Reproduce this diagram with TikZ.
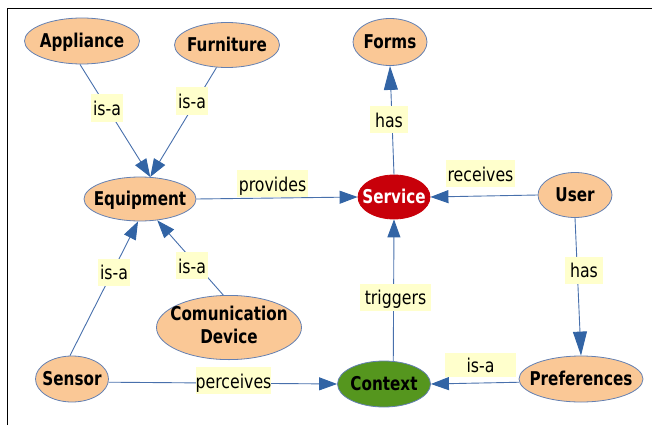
\documentclass[tikz,border=0pt]{standalone}
\usepackage{fontspec}
\setmainfont{DejaVu Sans}
\newfontfamily\conceptfont[FakeStretch=0.8]{DejaVu Sans}
\newfontfamily\linkfont[FakeStretch=0.83]{DejaVu Sans}
\usetikzlibrary{shapes.geometric,arrows.meta}

\definecolor{conceptfill}{RGB}{250,200,150}
\definecolor{conceptborder}{RGB}{100,128,178}
\definecolor{servicered}{RGB}{200,0,10}
\definecolor{contextgreen}{RGB}{85,150,30}
\definecolor{linkyellow}{RGB}{255,255,204}
\definecolor{edgeblue}{RGB}{72,112,172}
\definecolor{tipblue}{RGB}{50,100,165}

% concept names keep a fixed box so the ellipse size is set by the style alone
\newcommand\cname[1]{\makebox[0pt]{\raisebox{0pt}[15pt][2pt]{#1}}}

\tikzset{
  concept/.style={ellipse, draw=conceptborder, line width=0.8pt, fill=conceptfill,
    inner sep=0pt, font=\conceptfont\bfseries\fontsize{19}{22.7}\selectfont},
  linkname/.style={fill=linkyellow, inner xsep=2pt, inner ysep=0pt,
    minimum height=27pt, text height=15.5pt, text depth=0.5pt,
    font=\linkfont\fontsize{19}{22}\selectfont},
  relation/.style={draw=edgeblue, line width=0.9pt,
    -{Triangle[length=18pt,width=13pt,fill=tipblue,color=tipblue]}},
  longtip/.style={-{Triangle[length=24pt,width=14pt,fill=tipblue,color=tipblue]}}
}

\begin{document}
\begin{tikzpicture}[x=1pt,y=-1pt]
  \useasboundingbox (0,0) rectangle (652,425);
  \draw[black, line width=1pt] (7.3,425) -- (7.3,9) -- (652,9);

  % concepts
  \node[concept, minimum width=115pt, minimum height=46pt] (appl)  at (82,41)  {\cname{Appliance}};
  \node[concept, minimum width=105pt, minimum height=45pt] (furn)  at (227,45) {\cname{Furniture}};
  \node[concept, minimum width=112pt, minimum height=44pt] (equip) at (140,199) {\cname{Equipment}};
  \node[concept, minimum width=74pt,  minimum height=47pt] (forms) at (390,42) {\cname{Forms}};
  \node[concept, fill=servicered, draw=servicered, text=white,
        minimum width=72pt, minimum height=44pt] (serv) at (394,197) {\cname{Service}};
  \node[concept, minimum width=74pt,  minimum height=45pt] (user)  at (575,195) {\cname{User}};
  \node[concept, minimum width=145pt, minimum height=61pt] (comm)  at (229,327.5)
    {\makebox[0pt]{\raisebox{-1.5pt}{\begin{tabular}{@{}c@{}}Comunication\\Device\end{tabular}}}};
  \node[concept, minimum width=73pt,  minimum height=46pt] (sens)  at (72,379) {\cname{Sensor}};
  \node[concept, fill=contextgreen,
        minimum width=93pt,  minimum height=46pt] (ctx)   at (384,384) {\cname{Context}};
  \node[concept, minimum width=124pt, minimum height=46pt] (pref)  at (581,379) {\cname{Preferences}};

  % relations
  \draw[relation] (appl.265) -- (equip.65);
  \draw[relation] (furn.245) -- (equip.65);
  \draw[relation] (equip.east) -- (serv.west);
  \draw[relation] (user.west) -- (serv.east);
  \draw[relation, longtip] (serv.north) -- (forms.south);
  \draw[relation] (ctx.68) -- (serv.south);
  \draw[relation, longtip] (user.south) -- (pref.north);
  \draw[relation] (pref.183) -- (ctx.east);
  \draw[relation] (sens.355) -- (ctx.west);
  \draw[relation] (sens.95) -- (equip.265);
  \draw[relation] (comm.100) -- (equip.309);

  % relation names
  \node[linkname] (lappl)  at (107,108)   {is-a};
  \node[linkname] (lfurn)  at (192,101)   {is-a};
  \node[linkname] (lprov)  at (272.5,183.5) {provides};
  \node[linkname, minimum width=38pt] (lforms) at (389,119.5) {has};
  \node[linkname] (lrecv)  at (480.5,173.5) {receives};
  \node[linkname] (lsens)  at (114,272)   {is-a};
  \node[linkname] (lcomm)  at (192,265.5) {is-a};
  \node[linkname, inner xsep=0pt] (lperc)  at (233.5,380.5) {perceives};
  \node[linkname, minimum width=71pt] (ltrig) at (395.5,297) {triggers};
  \node[linkname, minimum width=38pt] (lpref) at (584,270) {has};
  \node[linkname, minimum width=71pt, minimum height=24pt] (lisa) at (480.5,365) {is-a};
\end{tikzpicture}
\end{document}
